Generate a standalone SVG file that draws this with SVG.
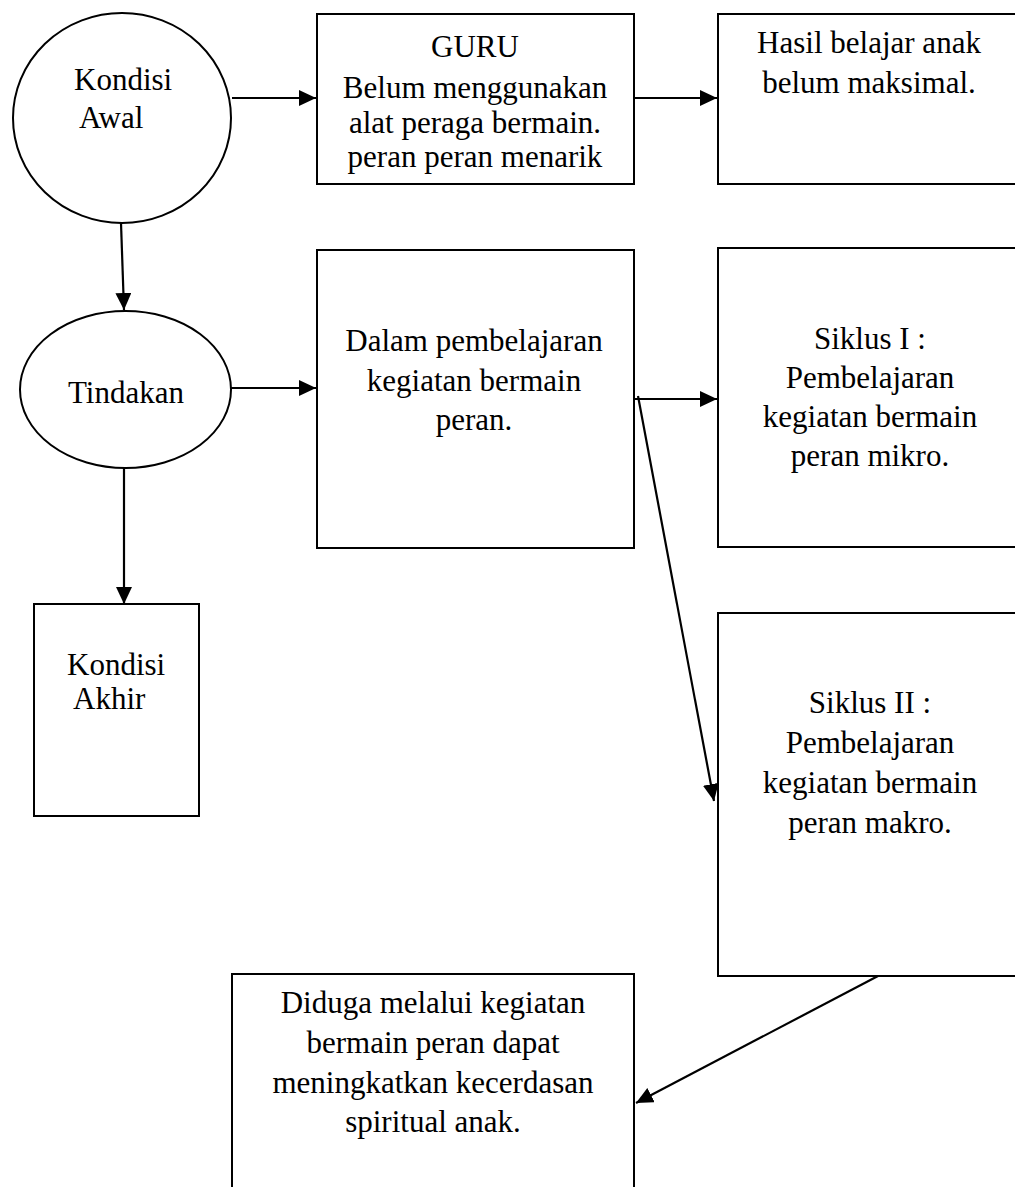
<svg xmlns="http://www.w3.org/2000/svg" width="1015" height="1187" viewBox="0 0 1015 1187">
<defs>
<style>
.n{fill:#fff;stroke:#000;stroke-width:2}
.t{font-family:"Liberation Serif","Times New Roman",serif;font-size:31px;fill:#000}
.c{text-anchor:middle}
.e{fill:none;stroke:#000;stroke-width:2.2}
</style>
<marker id="ah" markerUnits="userSpaceOnUse" markerWidth="18" markerHeight="16" refX="17" refY="8" orient="auto">
<path d="M0,0 L17,8 L0,16 z" fill="#000"/>
</marker>
</defs>
<rect width="1015" height="1187" fill="#fff"/>
<g id="kondisi-awal">
<ellipse class="n" cx="122" cy="118" rx="109" ry="105"/>
<text class="t" x="74" y="90">Kondisi</text>
<text class="t" x="79" y="128">Awal</text>
</g>
<g id="guru">
<rect class="n" x="317" y="14" width="317" height="170"/>
<text class="t c" x="475" y="57">GURU</text>
<text class="t c" x="475" y="98">Belum menggunakan</text>
<text class="t c" x="475" y="133">alat peraga bermain.</text>
<text class="t c" x="475" y="167">peran peran menarik</text>
</g>
<g id="hasil">
<rect class="n" x="718" y="14" width="320" height="170"/>
<text class="t c" x="869" y="53">Hasil belajar anak</text>
<text class="t c" x="869" y="93">belum maksimal.</text>
</g>
<g id="tindakan">
<ellipse class="n" cx="125.5" cy="389.5" rx="105.5" ry="78.5"/>
<text class="t c" x="126" y="403">Tindakan</text>
</g>
<g id="dalam">
<rect class="n" x="317" y="250" width="317" height="298"/>
<text class="t c" x="474" y="351">Dalam pembelajaran</text>
<text class="t c" x="474" y="391">kegiatan bermain</text>
<text class="t c" x="474" y="430">peran.</text>
</g>
<g id="siklus-1">
<rect class="n" x="718" y="248" width="320" height="299"/>
<text class="t c" x="870" y="349">Siklus I :</text>
<text class="t c" x="870" y="388">Pembelajaran</text>
<text class="t c" x="870" y="427">kegiatan bermain</text>
<text class="t c" x="870" y="466">peran mikro.</text>
</g>
<g id="kondisi-akhir">
<rect class="n" x="34" y="604" width="165" height="212"/>
<text class="t" x="67" y="675">Kondisi</text>
<text class="t" x="73" y="709">Akhir</text>
</g>
<g id="siklus-2">
<rect class="n" x="718" y="613" width="320" height="363"/>
<text class="t c" x="870" y="713">Siklus II :</text>
<text class="t c" x="870" y="753">Pembelajaran</text>
<text class="t c" x="870" y="793">kegiatan bermain</text>
<text class="t c" x="870" y="833">peran makro.</text>
</g>
<g id="diduga">
<rect class="n" x="232" y="974" width="402" height="240"/>
<text class="t c" x="433" y="1013">Diduga melalui kegiatan</text>
<text class="t c" x="433" y="1053">bermain peran dapat</text>
<text class="t c" x="433" y="1093">meningkatkan kecerdasan</text>
<text class="t c" x="433" y="1132">spiritual anak.</text>
</g>
<g id="connectors">
<line class="e" x1="232" y1="98" x2="316" y2="98" marker-end="url(#ah)"/>
<line class="e" x1="634" y1="98" x2="717" y2="98" marker-end="url(#ah)"/>
<line class="e" x1="121" y1="223" x2="124" y2="310" marker-end="url(#ah)"/>
<line class="e" x1="231" y1="388" x2="316" y2="388" marker-end="url(#ah)"/>
<line class="e" x1="634" y1="399" x2="717" y2="399" marker-end="url(#ah)"/>
<line class="e" x1="638" y1="396" x2="714" y2="801" marker-end="url(#ah)"/>
<line class="e" x1="124" y1="468" x2="124" y2="604" marker-end="url(#ah)"/>
<line class="e" x1="878" y1="976" x2="636" y2="1103" marker-end="url(#ah)"/>
</g>
</svg>
